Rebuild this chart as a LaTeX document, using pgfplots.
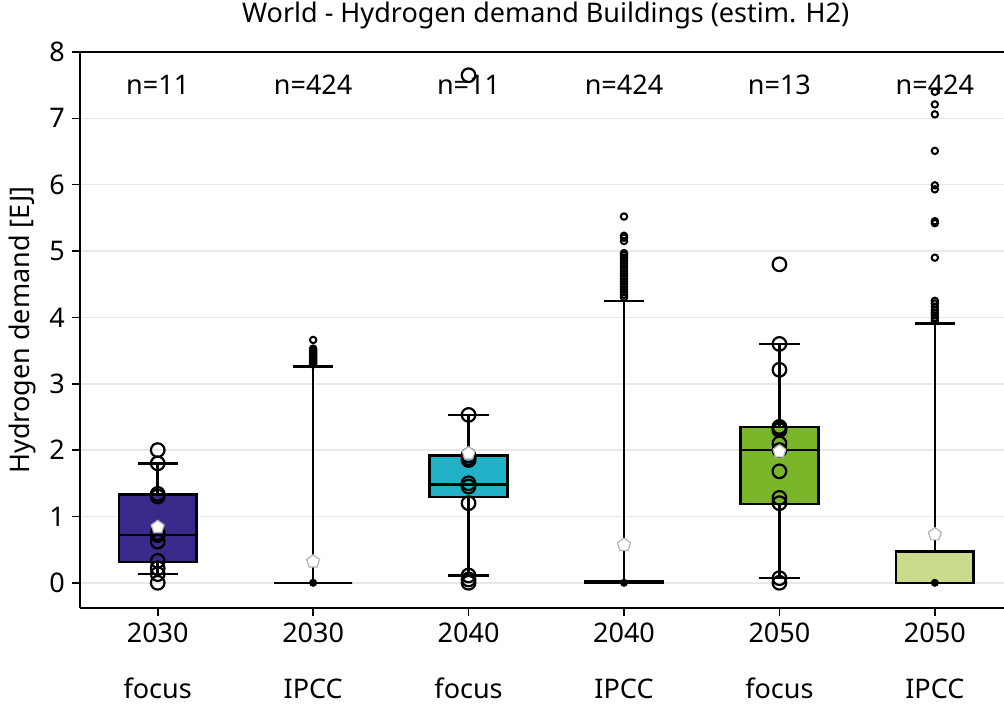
\documentclass[border=0pt]{standalone}
\usepackage{fontspec}
\setmainfont{Noto Sans}
\usepackage{pgfplots}
\pgfplotsset{compat=1.18}
\usepgfplotslibrary{statistics}
\usetikzlibrary{plotmarks}

\definecolor{c30}{HTML}{3B2A8C}
\definecolor{c30i}{HTML}{A79FD6}
\definecolor{c40}{HTML}{22B2C8}
\definecolor{c40i}{HTML}{9ED9E3}
\definecolor{c50}{HTML}{7AB629}
\definecolor{c50i}{HTML}{C8DC8C}
\definecolor{gridgray}{HTML}{E8E8E8}

\begin{document}
\begin{tikzpicture}[font=\fontsize{13.5}{16}\selectfont]
\begin{axis}[
  scale only axis, width=462pt, height=278pt,
  at={(0,0)}, anchor=south west,
  xmin=-0.5, xmax=5.445, ymin=-0.38, ymax=8,
  axis x line*=box, axis y line*=left,
  xtick pos=bottom, ytick pos=left,
  xtick={0,...,5},
  xticklabels={{2030\\[12pt]focus},{2030\\[12pt]IPCC},{2040\\[12pt]focus},{2040\\[12pt]IPCC},{2050\\[12pt]focus},{2050\\[12pt]IPCC}},
  xticklabel style={align=center},
  ytick={0,...,8},
  /pgf/number format/assume math mode=true,
  tick align=outside, major tick length=4pt,
  tick style={black, line width=0.8pt},
  ymajorgrids, grid style={gridgray, line width=0.8pt},
  axis line style={line width=0.9pt},
  boxplot/draw direction=y,
  ylabel={Hydrogen demand [EJ]},
  title={World - Hydrogen demand Buildings (estim. H2)},
  title style={at={(0.504,1)}, anchor=south, yshift=2pt},
]
% boxes
\addplot[boxplot prepared={draw position=0, lower whisker=0.13, lower quartile=0.31, median=0.72, upper quartile=1.33, upper whisker=1.80, box extend=0.5, whisker extend=0.26}, draw=black, fill=c30, line width=1.25pt] coordinates {};
\addplot[boxplot prepared={draw position=1, lower whisker=0, lower quartile=0, median=0, upper quartile=0, upper whisker=3.26, box extend=0.5, whisker extend=0.26}, draw=black, fill=c30i, line width=1.25pt] coordinates {};
\addplot[boxplot prepared={draw position=2, lower whisker=0.11, lower quartile=1.29, median=1.48, upper quartile=1.92, upper whisker=2.53, box extend=0.5, whisker extend=0.26}, draw=black, fill=c40, line width=1.25pt] coordinates {};
\addplot[boxplot prepared={draw position=3, lower whisker=0, lower quartile=0, median=0.01, upper quartile=0.03, upper whisker=4.25, box extend=0.5, whisker extend=0.26}, draw=black, fill=c40i, line width=1.25pt] coordinates {};
\addplot[boxplot prepared={draw position=4, lower whisker=0.07, lower quartile=1.19, median=2.00, upper quartile=2.35, upper whisker=3.60, box extend=0.5, whisker extend=0.26}, draw=black, fill=c50, line width=1.25pt] coordinates {};
\addplot[boxplot prepared={draw position=5, lower whisker=0, lower quartile=0, median=0, upper quartile=0.47, upper whisker=3.91, box extend=0.5, whisker extend=0.26}, draw=black, fill=c50i, line width=1.25pt] coordinates {};

% focus scenarios, every value
\addplot[only marks, mark=o, mark size=3.4pt, mark options={line width=1.1pt}, black] coordinates {
  (0,0.00) (0,0.13) (0,0.22) (0,0.33) (0,0.62) (0,0.72) (0,0.75) (0,1.30) (0,1.34) (0,1.80) (0,2.00)
  (2,0.00) (2,0.05) (2,0.11) (2,1.20) (2,1.45) (2,1.50) (2,1.85) (2,1.88) (2,1.92) (2,2.53) (2,7.65)
  (4,0.00) (4,0.07) (4,1.20) (4,1.28) (4,1.68) (4,2.00) (4,2.10) (4,2.30) (4,2.33) (4,2.35) (4,3.21) (4,3.60) (4,4.80)
};

% IPCC outliers
\addplot[only marks, mark=o, mark size=1.6pt, mark options={line width=1pt}, black] coordinates {
  (1,3.29) (1,3.31) (1,3.33) (1,3.35) (1,3.37) (1,3.39) (1,3.41) (1,3.43) (1,3.45) (1,3.47) (1,3.49) (1,3.51) (1,3.53) (1,3.66)
  (3,4.30) (3,4.34) (3,4.38) (3,4.42) (3,4.46) (3,4.50) (3,4.54) (3,4.58) (3,4.62) (3,4.66) (3,4.70) (3,4.74) (3,4.78) (3,4.82) (3,4.86) (3,4.90) (3,4.94) (3,4.97) (3,5.15) (3,5.20) (3,5.23) (3,5.52)
  (5,3.95) (5,3.99) (5,4.03) (5,4.07) (5,4.11) (5,4.16) (5,4.21) (5,4.25) (5,4.90) (5,5.42) (5,5.45) (5,5.93) (5,5.99) (5,6.51) (5,7.06) (5,7.21) (5,7.40)
};

% medians of the IPCC sets
\addplot[only marks, mark=*, mark size=1.8pt, black] coordinates {(1,0) (3,0) (5,0)};

% means
\addplot[only marks, mark=pentagon*, mark size=3.4pt, mark options={fill=white, draw=gray!60, line width=0.6pt}] coordinates {
  (0,0.84) (1,0.32) (2,1.95) (3,0.57) (4,1.98) (5,0.73)
};

\node at (axis cs:0,7.5) {n=11};
\node at (axis cs:1,7.5) {n=424};
\node at (axis cs:2,7.5) {n=11};
\node at (axis cs:3,7.5) {n=424};
\node at (axis cs:4,7.5) {n=13};
\node at (axis cs:5,7.5) {n=424};
\end{axis}
\pgfresetboundingbox
\path[use as bounding box] (-40pt,-51.5pt) rectangle (462pt,304pt);
\end{tikzpicture}
\end{document}
